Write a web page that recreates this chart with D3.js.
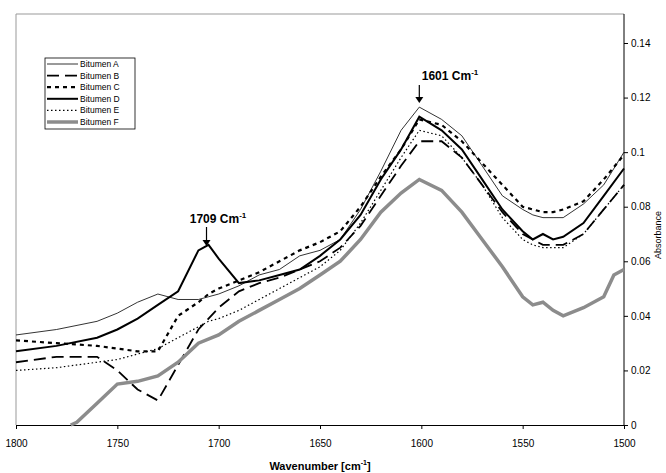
<!DOCTYPE html>
<html><head><meta charset="utf-8">
<script src="https://cdn.jsdelivr.net/npm/d3@7"></script>
<style>body{margin:0;background:#fff}svg{font-family:Arial,"Liberation Sans",sans-serif}</style>
</head><body><svg id="c" width="666" height="473"></svg>
<script>
var wn = [1800,1780,1760,1750,1740,1730,1720,1710,1705,1700,1690,1680,1670,1660,1650,1640,1630,1620,1610,1601,1590,1580,1570,1560,1550,1545,1540,1535,1530,1520,1510,1500];
var bitA = [0.033,0.035,0.038,0.041,0.045,0.048,0.046,0.046,0.047,0.048,0.051,0.055,0.057,0.062,0.064,0.068,0.079,0.093,0.108,0.1165,0.112,0.106,0.095,0.084,0.079,0.077,0.076,0.076,0.076,0.081,0.088,0.100];
var bitB = [0.023,0.025,0.025,0.020,0.013,0.009,0.022,0.035,0.039,0.043,0.049,0.052,0.054,0.057,0.060,0.065,0.073,0.084,0.095,0.104,0.104,0.098,0.088,0.078,0.070,0.068,0.066,0.066,0.066,0.070,0.079,0.088];
var bitC = [0.031,0.030,0.029,0.028,0.027,0.027,0.040,0.045,0.048,0.050,0.053,0.056,0.060,0.064,0.067,0.071,0.080,0.091,0.101,0.112,0.110,0.104,0.096,0.088,0.080,0.079,0.078,0.078,0.079,0.082,0.090,0.099];
var bitD = [0.027,0.029,0.032,0.035,0.039,0.044,0.049,0.064,0.066,0.061,0.052,0.053,0.055,0.057,0.062,0.068,0.077,0.090,0.101,0.113,0.108,0.101,0.090,0.079,0.071,0.068,0.070,0.068,0.069,0.074,0.084,0.094];
var bitE = [0.020,0.021,0.023,0.024,0.026,0.028,0.032,0.036,0.038,0.039,0.042,0.046,0.050,0.054,0.058,0.064,0.074,0.086,0.098,0.108,0.106,0.098,0.088,0.076,0.068,0.066,0.065,0.065,0.065,0.070,0.079,0.088];
var wnF = [1773,1770,1760,1750,1740,1730,1720,1710,1700,1690,1680,1670,1660,1650,1640,1630,1620,1610,1601,1590,1580,1570,1560,1550,1545,1540,1535,1530,1520,1510,1505,1500];
var bitF = [0,0.001,0.008,0.015,0.016,0.018,0.023,0.030,0.033,0.038,0.042,0.046,0.050,0.055,0.060,0.068,0.078,0.085,0.090,0.086,0.078,0.068,0.058,0.047,0.044,0.045,0.042,0.040,0.043,0.047,0.055,0.057];
var names = ["Bitumen A","Bitumen B","Bitumen C","Bitumen D","Bitumen E","Bitumen F"];
var xTicks = [1800,1750,1700,1650,1600,1550,1500];
var yTicks = [0,0.02,0.04,0.06,0.08,0.1,0.12,0.14];

var svg = d3.select("#c");
var L=16, R=624, T=14, B=425;
var x = d3.scaleLinear().domain([1800,1500]).range([L,R]);
var y = d3.scaleLinear().domain([0,0.14]).range([B,43]);

svg.append("path").attr("d","M"+L+","+B+"V"+T+"H"+R).attr("fill","none").attr("stroke","#999").attr("stroke-width",1);

var xa = svg.append("g").attr("transform","translate(0,"+B+")")
  .call(d3.axisBottom(x).tickValues(xTicks).tickSize(4).tickSizeOuter(0).tickFormat(d3.format("d")));
var ya = svg.append("g").attr("transform","translate("+R+",0)")
  .call(d3.axisRight(y).tickValues(yTicks).tickSize(4).tickSizeOuter(0).tickFormat(function(d){return d===0?"0":String(+d.toFixed(2));}));
ya.select(".domain").attr("d","M0,"+B+"V"+T);
[xa,ya].forEach(function(a){a.selectAll("text").attr("font-size",10).attr("fill","#000");a.selectAll("line,path").attr("stroke","#000");});
xa.selectAll("text").attr("dy","1.5em");

var styles = [
  {s:"#000",w:0.8,d:null},
  {s:"#000",w:1.8,d:"12,6"},
  {s:"#000",w:2.2,d:"4,4"},
  {s:"#000",w:2,d:null},
  {s:"#000",w:1.2,d:"1.5,2.5"},
  {s:"#8c8c8c",w:3.5,d:null}
];
var series = [[wn,bitA],[wn,bitB],[wn,bitC],[wn,bitD],[wn,bitE],[wnF,bitF]];
var line = d3.line().x(function(d){return x(d[0]);}).y(function(d){return y(d[1]);});
series.forEach(function(s,i){
  svg.append("path").datum(d3.zip(s[0],s[1])).attr("d",line).attr("fill","none")
    .attr("stroke",styles[i].s).attr("stroke-width",styles[i].w).attr("stroke-dasharray",styles[i].d);
});

var lg = svg.append("g").attr("transform","translate(45,58)");
lg.append("rect").attr("width",90).attr("height",71).attr("fill","#fff").attr("stroke","#000").attr("stroke-width",0.8);
names.forEach(function(n,i){
  var yy = 6+i*11.6;
  lg.append("line").attr("x1",2).attr("x2",33).attr("y1",yy).attr("y2",yy)
    .attr("stroke",styles[i].s).attr("stroke-width",styles[i].w).attr("stroke-dasharray",styles[i].d);
  lg.append("text").attr("x",35).attr("y",yy+3).attr("font-size",8.5).text(n);
});

function note(tx,ty,ax,ay1,ay2,num){
  var t = svg.append("text").attr("x",tx).attr("y",ty).attr("font-size",12).attr("font-weight","bold").attr("text-anchor","middle");
  t.append("tspan").text(num+" Cm");
  t.append("tspan").attr("font-size",8).attr("dy",-5).text("-1");
  svg.append("line").attr("x1",ax).attr("x2",ax).attr("y1",ay1).attr("y2",ay2-4).attr("stroke","#000").attr("stroke-width",1.2);
  svg.append("path").attr("d","M"+(ax-4)+","+(ay2-6)+"L"+(ax+4)+","+(ay2-6)+"L"+ax+","+ay2+"Z");
}
note(450,80,x(1601),85,103,"1601");
note(218,223,x(1706),227,246,"1709");

var xl = svg.append("text").attr("x",320).attr("y",470).attr("font-size",11).attr("font-weight","bold").attr("text-anchor","middle");
xl.append("tspan").text("Wavenumber [cm");
xl.append("tspan").attr("font-size",7).attr("dy",-5).text("-1");
xl.append("tspan").attr("dy",5).text("]");
svg.append("text").attr("transform","translate(661,235) rotate(-90)").attr("font-size",9).attr("text-anchor","middle").text("Absorbance");
</script></body></html>
